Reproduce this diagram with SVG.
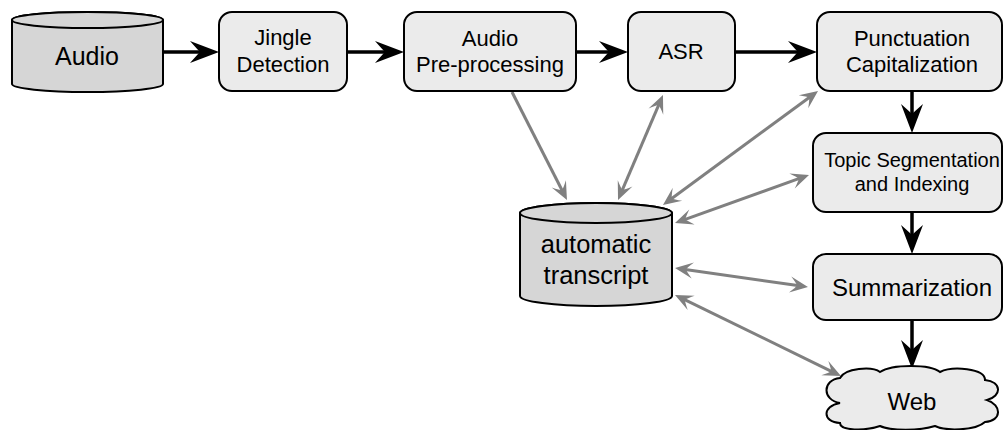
<svg xmlns="http://www.w3.org/2000/svg" width="1004" height="430" viewBox="0 0 1004 430">
<style>
  .box { fill: #ebebeb; stroke: #000; stroke-width: 2; }
  .db { fill: #d6d6d6; stroke: #000; stroke-width: 2; }
  .t { font-family: "Liberation Sans", Arial, sans-serif; fill: #000; text-anchor: middle; }
  .flow { stroke: #000; stroke-width: 3.5; fill: none; marker-end: url(#bk); }
  .link { stroke: #808080; stroke-width: 3; fill: none; marker-end: url(#gr); }
  .both { marker-start: url(#gr); }
</style>
<defs>
  <marker id="bk" markerUnits="userSpaceOnUse" viewBox="-30 -12 31 24" refX="-8" refY="0" markerWidth="31" markerHeight="24" orient="auto">
    <path d="M0,0 L-29,-11 Q-22,-3 -19,0 Q-22,3 -29,11 Z" fill="#000"/>
  </marker>
  <marker id="gr" markerUnits="userSpaceOnUse" viewBox="-19 -9 20 18" refX="-5" refY="0" markerWidth="20" markerHeight="18" orient="auto-start-reverse">
    <path d="M0,0 L-18,-8 Q-12,-2 -11,0 Q-12,2 -18,8 Z" fill="#808080"/>
  </marker>
</defs>

<g id="connectors">
  <line class="flow" x1="163" y1="52" x2="211" y2="52"/>
  <line class="flow" x1="347" y1="52" x2="396" y2="52"/>
  <line class="flow" x1="576" y1="52" x2="620" y2="52"/>
  <line class="flow" x1="735" y1="52" x2="809" y2="52"/>
  <line class="flow" x1="912" y1="91" x2="912" y2="125"/>
  <line class="flow" x1="912" y1="212" x2="912" y2="246"/>
  <line class="flow" x1="912" y1="320" x2="912" y2="361"/>

  <line class="link" x1="512" y1="92" x2="564.7" y2="195.5"/>
  <line class="link both" x1="620" y1="195.4" x2="661" y2="99.6"/>
  <line class="link both" x1="667" y1="202" x2="814" y2="94"/>
  <line class="link both" x1="679.7" y1="221.3" x2="804.3" y2="176.7"/>
  <line class="link both" x1="680" y1="268.7" x2="803" y2="286.3"/>
  <line class="link both" x1="679.5" y1="297.2" x2="836.5" y2="373.8"/>
</g>

<g id="audio">
  <path class="db" d="M12,20 A75.5,8 0 0 1 163,20 V84 A75.5,8 0 0 1 12,84 Z"/>
  <ellipse class="db" cx="87.5" cy="20" rx="75.5" ry="8"/>
  <text class="t" x="87" y="65" font-size="25">Audio</text>
</g>

<g id="jingle">
  <rect class="box" x="219" y="12" width="128" height="79" rx="13"/>
  <text class="t" x="283" y="45" font-size="22">Jingle</text>
  <text class="t" x="283" y="72" font-size="22">Detection</text>
</g>

<g id="preproc">
  <rect class="box" x="404" y="12" width="172" height="79" rx="13"/>
  <text class="t" x="490" y="46" font-size="22">Audio</text>
  <text class="t" x="490" y="72" font-size="22">Pre-processing</text>
</g>

<g id="asr">
  <rect class="box" x="628" y="12" width="107" height="79" rx="13"/>
  <text class="t" x="681" y="59" font-size="22">ASR</text>
</g>

<g id="punct">
  <rect class="box" x="817" y="12" width="185" height="79" rx="13"/>
  <text class="t" x="912" y="46" font-size="22">Punctuation</text>
  <text class="t" x="912" y="72" font-size="22">Capitalization</text>
</g>

<g id="topic">
  <rect class="box" x="813" y="133" width="189" height="79" rx="13"/>
  <text class="t" x="912" y="167" font-size="20">Topic Segmentation</text>
  <text class="t" x="912" y="191" font-size="20">and Indexing</text>
</g>

<g id="summ">
  <rect class="box" x="813" y="254" width="189" height="66" rx="13"/>
  <text class="t" x="912" y="296" font-size="24">Summarization</text>
</g>

<g id="web">
  <path class="box" d="M840,378 C845,368 872,366 880,372 C892,364 930,364 940,372 C952,366 985,368 985,380 C1002,382 1002,396 987,400 C1002,405 1002,421 985,422 C975,431 945,431 935,426 C920,431 890,431 880,426 C865,431 840,431 840,423 C822,422 822,406 840,403 C822,400 822,380 840,378 Z"/>
  <text class="t" x="912" y="410" font-size="24">Web</text>
</g>

<g id="transcript">
  <path class="db" d="M520,213 A76,10 0 0 1 672,213 V296 A76,10 0 0 1 520,296 Z"/>
  <ellipse class="db" cx="596" cy="213" rx="76" ry="10"/>
  <text class="t" x="596" y="253" font-size="25.5">automatic</text>
  <text class="t" x="596" y="284" font-size="25.5">transcript</text>
</g>
</svg>
